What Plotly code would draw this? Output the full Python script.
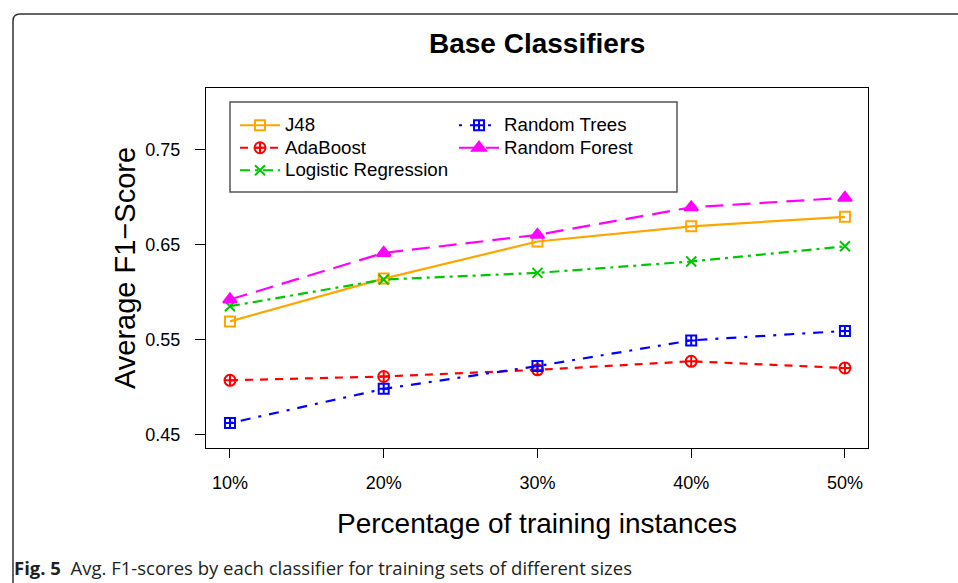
import plotly.graph_objects as go

W, H = 958, 583

# ---- data ----
categories = ["10%", "20%", "30%", "40%", "50%"]
x_pos = [10, 20, 30, 40, 50]
j48 = [0.569, 0.614, 0.653, 0.669, 0.679]
adaboost = [0.507, 0.511, 0.518, 0.527, 0.520]
logreg = [0.585, 0.613, 0.620, 0.632, 0.648]
rtrees = [0.462, 0.498, 0.522, 0.549, 0.559]
rforest = [0.592, 0.641, 0.660, 0.689, 0.699]
y_ticks = [0.45, 0.55, 0.65, 0.75]
y_tick_labels = ["0.45", "0.55", "0.65", "0.75"]


def px(x):
    return x / W


def py(y):
    return 1 - y / H


FONT = "Liberation Sans, Arial, Helvetica, sans-serif"
LEG_TXT = '<span style="font-size:18.7px">{}</span>'

fig = go.Figure()

series = [
    ("J48", j48, "#FFA500", "solid", "square-open", 10, "legend"),
    ("AdaBoost", adaboost, "#FF0000", "8px,7px", "circle-cross-open", 11, "legend"),
    ("Logistic Regression", logreg, "#00C800", "10px,5px,3px,5px", "x-thin-open", 10, "legend"),
    ("Random Trees", rtrees, "#0000FF", "3px,8px,10px,8px", "square-cross-open", 10, "legend2"),
    ("Random Forest", rforest, "#FF00FF", "18px,9px", "triangle-up", 12, "legend2"),
]

for name, vals, col, dash, sym, size, leg in series:
    fig.add_trace(go.Scatter(
        x=x_pos, y=vals, name=LEG_TXT.format(name), mode="lines+markers",
        line=dict(color=col, width=2.2, dash=dash),
        marker=dict(symbol=sym, size=size, color=col,
                    line=dict(color=col, width=2)),
        legend=leg,
    ))

fig.update_layout(
    width=W, height=H,
    margin=dict(l=0, r=0, t=0, b=0),
    paper_bgcolor="white", plot_bgcolor="white",
    font=dict(family=FONT, color="black"),
    showlegend=True,
    xaxis=dict(
        domain=[px(206), px(868)], range=[8.44, 51.5],
        tickmode="array", tickvals=x_pos, ticktext=categories,
        showgrid=False, zeroline=False,
        showline=True, linecolor="black", linewidth=1, mirror=True,
        ticks="outside", ticklen=9, tickcolor="black", tickwidth=1,
        tickfont=dict(family=FONT, size=18, color="black"),
        ticklabelstandoff=9,
    ),
    yaxis=dict(
        domain=[py(448), py(88)], range=[0.4358, 0.8145],
        tickmode="array", tickvals=y_ticks, ticktext=y_tick_labels,
        showgrid=False, zeroline=False,
        showline=True, linecolor="black", linewidth=1, mirror=True,
        ticks="outside", ticklen=10, tickcolor="black", tickwidth=1,
        tickfont=dict(family=FONT, size=18, color="black"),
        ticklabelstandoff=11,
    ),
    legend=dict(
        x=px(235), y=py(109), xanchor="left", yanchor="top",
        bgcolor="rgba(0,0,0,0)", borderwidth=0,
        font=dict(family=FONT, size=15, color="black"),
        tracegroupgap=0, itemwidth=40,
    ),
    legend2=dict(
        x=px(454), y=py(109), xanchor="left", yanchor="top",
        bgcolor="rgba(0,0,0,0)", borderwidth=0,
        font=dict(family=FONT, size=15, color="black"),
        tracegroupgap=0, itemwidth=40,
    ),
    shapes=[
        # legend frame
        dict(type="rect", xref="paper", yref="paper",
             x0=px(230), x1=px(677), y0=py(192), y1=py(102),
             line=dict(color="#555555", width=1.5), fillcolor="rgba(0,0,0,0)"),
        # outer figure frame (rounded top-left corner)
        dict(type="path", xref="paper", yref="paper",
             path=(f"M {px(13)},{py(600)} L {px(13)},{py(21)} "
                   f"Q {px(13)},{py(14)} {px(20)},{py(14)} L {px(970)},{py(14)}"),
             line=dict(color="#333333", width=1.5)),
    ],
    annotations=[
        dict(text="<b>Base Classifiers</b>", x=px(537), y=py(44),
             xref="paper", yref="paper", xanchor="center", yanchor="middle",
             showarrow=False, font=dict(family=FONT, size=28, color="black")),
        dict(text="Average F1\u2212Score", x=px(125), y=py(268), textangle=-90,
             xref="paper", yref="paper", xanchor="center", yanchor="middle",
             showarrow=False, font=dict(family=FONT, size=29, color="black")),
        dict(text="Percentage of training instances", x=px(537), y=py(523),
             xref="paper", yref="paper", xanchor="center", yanchor="middle",
             showarrow=False, font=dict(family=FONT, size=28, color="black")),
        dict(text="<b>Fig. 5</b>\u00a0\u00a0Avg. F1-scores by each classifier for training sets of different sizes",
             x=px(12), y=py(567), xref="paper", yref="paper",
             xanchor="left", yanchor="middle", showarrow=False,
             font=dict(family="Open Sans, sans-serif", size=18.5, color="#231F20")),
    ],
)

fig.write_html(
    "out.html",
    config={"displayModeBar": False},
    post_script="document.body.style.margin='0';document.body.style.overflow='hidden';",
)
